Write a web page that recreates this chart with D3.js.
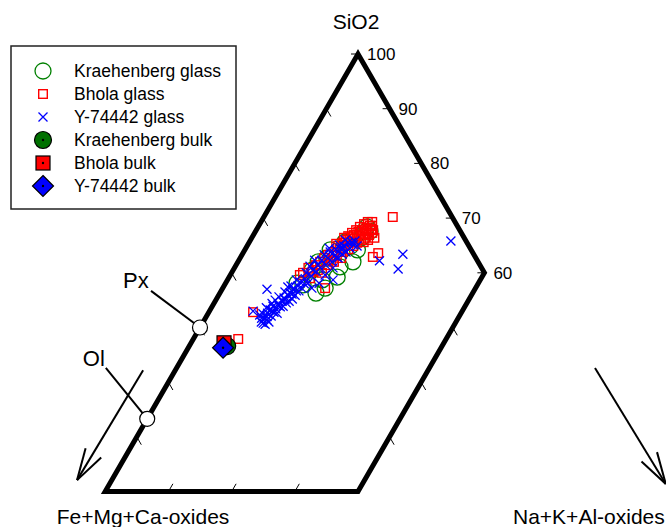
<!DOCTYPE html>
<html>
<head>
<meta charset="utf-8">
<script src="https://cdn.jsdelivr.net/npm/d3@7"></script>
<style>
  body { margin: 0; background: #fff; }
  svg { display: block; font-family: "Liberation Sans", Arial, Helvetica, sans-serif; }
</style>
</head>
<body>
<svg id="chart" width="666" height="527"></svg>
<script>
// Compositions as [SiO2, Na+K+Al-oxides] in %; Fe+Mg+Ca-oxides is the remainder to 100.
const kraehenbergGlass = [
  [64.2,13.5],[65.6,15.1],[62.0,18.2],[68.4,17.2],[59.2,17.1],[56.3,15.2],[57.8,12.4],
  [64.2,17.8],[62.7,13.7],[60.5,12.5],[66.5,17.4],[61.1,16.6],[58.7,15.0],[67.5,17.4],
  [57.2,16.2],[58.1,11.3],[64.9,16.4],[62.0,12.7],[67.6,18.1]
];
const bholaGlass = [
  [60.0,11.3],[60.9,11.7],[60.2,12.7],[61.4,12.6],[62.0,13.0],[62.7,13.3],[60.5,13.4],
  [63.3,13.6],[62.3,14.6],[63.8,14.3],[63.1,15.1],[64.5,14.9],[63.8,15.7],[65.1,15.4],
  [64.3,16.3],[65.6,15.9],[64.9,16.8],[66.2,16.4],[65.5,17.1],[66.7,16.8],[66.0,17.5],
  [67.1,17.3],[66.4,17.9],[67.6,17.6],[66.9,18.3],[68.0,18.1],[67.3,18.6],[68.6,17.6],
  [68.2,17.2],[67.8,16.7],[67.5,16.3],[66.9,15.9],[66.5,15.5],[66.0,15.1],[65.5,14.8],
  [64.9,14.4],[62.0,15.2],[61.4,14.4],[60.0,14.3],[65.3,13.9],[65.6,18.1],[66.0,18.6],
  [68.6,17.9],[67.8,18.5],[62.7,16.0],[57.2,16.2],[59.0,12.9],[59.6,11.0],
  [68.9,16.5],[69.3,16.9],[69.3,17.6],[68.4,16.1],[67.8,15.8],[67.3,15.4],[66.4,19.4],
  [66.7,15.1],[66.4,14.6],
  [70.2,20.4],[63.6,21.4],[62.9,20.9],[52.8,7.0],[47.9,7.1]
];
const y74442Glass = [
  [51.0,9.2],[51.7,9.3],[51.4,9.9],[52.5,8.7],[52.6,9.4],[52.1,10.2],[53.2,9.5],[52.8,10.3],
  [53.6,8.7],[53.9,9.6],[53.4,10.3],[54.3,10.2],[55.0,9.4],[53.8,10.8],[54.8,10.6],[55.6,9.7],
  [55.4,10.6],[54.5,11.4],[55.8,11.1],[56.5,10.2],[56.3,11.1],[55.2,12.0],[57.0,11.2],[56.7,11.9],
  [57.6,10.6],[57.6,11.7],[58.3,11.7],[58.7,10.9],[57.2,12.5],[58.9,12.2],[58.1,13.0],[60.0,11.8],
  [59.4,12.9],[60.5,12.6],[61.2,11.8],[60.2,13.3],[61.4,13.0],[62.3,12.0],[60.9,13.6],[62.3,13.1],
  [63.3,13.0],[61.4,14.2],[62.7,13.9],[63.8,13.7],[62.0,14.9],[63.1,14.7],[64.2,14.4],[62.7,15.5],
  [64.5,14.9],[63.4,15.8],[64.9,15.3],[63.8,16.2],[65.5,15.7],[64.5,16.5],[65.1,16.7],[65.8,16.6],
  [64.9,17.4],[66.0,15.0],[65.1,14.5],[64.5,13.2],[60.9,15.6],[59.6,15.0],[58.1,14.8],[57.2,14.1],
  [58.7,16.7],[65.6,16.2],[64.5,15.4],[62.9,15.2],[57.4,10.2],[51.7,8.9],[51.0,10.4],[50.6,10.0],
  [52.6,10.9],[53.9,11.2],[54.8,11.7],[55.9,12.1],[56.7,12.3],[58.0,12.5],
  [52.0,9.6],[53.0,10.0],[54.0,10.4],[55.1,10.9],[56.1,11.5],[50.8,9.6],[52.3,8.3],[54.4,9.2],
  [57.0,7.1],[53.0,6.9],[63.4,25.4],[60.7,26.0],[62.2,22.3],[65.8,31.8]
];
const kraehenbergBulk = [[46.6, 6.0]];
const bholaBulk = [[47.2, 5.2]];
const y74442Bulk = [[46.3, 5.5]];

// Plotted window of the ternary: SiO2 >= 20, Na+K+Al <= 40
const frame = [[100, 0], [60, 40], [20, 40], [20, 0]];
const sio2Ticks = [100, 90, 80, 70, 60];
const leftEdgeTicks = [90, 80, 70, 60, 50, 40, 30];
const bottomTicks = [10, 20, 30];
const cutEdgeTicks = [50, 40, 30];

// Reference minerals on the SiO2 - (Fe+Mg+Ca) join, molar
const minerals = [
  { name: "Px", sio2: 50.0, labelAt: [56.7, -11.1], textAt: [58.7, -14.5] },
  { name: "Ol", sio2: 33.3, labelAt: [42.6, -11.2], textAt: [44.4, -14.0] }
];
// Direction arrows towards the two lower apices
const arrows = [
  { from: [42.2, -5.1], to: [22.1, -5.5] },
  { from: [42.6, 66.2], to: [21.4, 88.0] }
];

const legendItems = [
  { label: "Kraehenberg glass", kind: "glassCircle" },
  { label: "Bhola glass", kind: "glassSquare" },
  { label: "Y-74442 glass", kind: "glassCross" },
  { label: "Kraehenberg bulk", kind: "bulkCircle" },
  { label: "Bhola bulk", kind: "bulkSquare" },
  { label: "Y-74442 bulk", kind: "bulkDiamond" }
];

const svg = d3.select("#chart");
const H = Math.sqrt(3) / 2;
const xs = d3.scaleLinear().domain([0, 1]).range([42, 674]);
const ys = d3.scaleLinear().domain([0, H]).range([601, 54]);
function proj(d) {
  const s = d[0] / 100, n = d[1] / 100;
  return [xs(n + s / 2), ys(s * H)];
}

// Frame
svg.append("path")
  .attr("d", d3.line()(frame.map(proj)) + "Z")
  .attr("fill", "none").attr("stroke", "#000")
  .attr("stroke-width", 5).attr("stroke-linejoin", "miter");

// Ticks
const tickG = svg.append("g").attr("stroke", "#000").attr("stroke-width", 1);
sio2Ticks.forEach(s => {
  const p = proj([s, 100 - s]);
  tickG.append("line").attr("x1", p[0]).attr("y1", p[1]).attr("x2", p[0] - 7).attr("y2", p[1]);
  svg.append("text").attr("x", p[0] + 9).attr("y", p[1]).attr("dy", "0.35em")
    .attr("font-size", 17).text(s);
});
leftEdgeTicks.forEach(s => {
  const p = proj([s, 0]);
  tickG.append("line").attr("x1", p[0]).attr("y1", p[1]).attr("x2", p[0] + 4.5).attr("y2", p[1] + 7.8);
});
cutEdgeTicks.forEach(s => {
  const p = proj([s, 40]);
  tickG.append("line").attr("x1", p[0]).attr("y1", p[1]).attr("x2", p[0] + 4.5).attr("y2", p[1] + 7.8);
});
bottomTicks.forEach(n => {
  const p = proj([20, n]);
  tickG.append("line").attr("x1", p[0]).attr("y1", p[1]).attr("x2", p[0] + 4.5).attr("y2", p[1] - 7.8);
});

// Axis titles
const apex = proj([100, 0]);
svg.append("text").attr("x", apex[0] - 2).attr("y", 29).attr("text-anchor", "middle")
  .attr("font-size", 21).text("SiO2");
svg.append("text").attr("x", 143).attr("y", 524).attr("text-anchor", "middle")
  .attr("font-size", 21).text("Fe+Mg+Ca-oxides");
svg.append("text").attr("x", 513).attr("y", 524).attr("text-anchor", "start")
  .attr("font-size", 21).text("Na+K+Al-oxides");

// Arrows
function arrow(a) {
  const p0 = proj(a.from), p1 = proj(a.to);
  const ang = Math.atan2(p0[1] - p1[1], p0[0] - p1[0]);
  const len = 33, spread = 16 * Math.PI / 180;
  const g = svg.append("g").attr("stroke", "#000").attr("stroke-width", 2).attr("fill", "none");
  g.append("line").attr("x1", p0[0]).attr("y1", p0[1]).attr("x2", p1[0]).attr("y2", p1[1]);
  [-spread, spread].forEach(da => {
    g.append("line").attr("x1", p1[0]).attr("y1", p1[1])
      .attr("x2", p1[0] + len * Math.cos(ang + da)).attr("y2", p1[1] + len * Math.sin(ang + da));
  });
}
arrows.forEach(arrow);

// Mineral reference points
minerals.forEach(m => {
  const p = proj([m.sio2, 0]);
  const l = proj(m.labelAt);
  const t = proj(m.textAt);
  svg.append("line").attr("x1", l[0]).attr("y1", l[1]).attr("x2", p[0]).attr("y2", p[1])
    .attr("stroke", "#000").attr("stroke-width", 2);
  svg.append("circle").attr("cx", p[0]).attr("cy", p[1]).attr("r", 7.5)
    .attr("fill", "#fff").attr("stroke", "#000").attr("stroke-width", 1.2);
  svg.append("text").attr("x", t[0]).attr("y", t[1]).attr("dy", "0.35em")
    .attr("text-anchor", "middle").attr("font-size", 22).text(m.name);
});

// Marker drawing helpers
function drawMarker(g, kind, cx, cy) {
  switch (kind) {
    case "glassCircle":
      g.append("circle").attr("cx", cx).attr("cy", cy).attr("r", 8)
        .attr("fill", "none").attr("stroke", "#008000").attr("stroke-width", 1.3);
      break;
    case "glassSquare":
      g.append("rect").attr("x", cx - 4.3).attr("y", cy - 4.3).attr("width", 8.6).attr("height", 8.6)
        .attr("fill", "none").attr("stroke", "#ff0000").attr("stroke-width", 1.4);
      break;
    case "glassCross":
      g.append("path").attr("d", `M${cx-4.5},${cy-4.5}L${cx+4.5},${cy+4.5}M${cx-4.5},${cy+4.5}L${cx+4.5},${cy-4.5}`)
        .attr("stroke", "#0000ff").attr("stroke-width", 1.3).attr("fill", "none");
      break;
    case "bulkCircle":
      g.append("circle").attr("cx", cx).attr("cy", cy).attr("r", 8.5)
        .attr("fill", "#007000").attr("stroke", "#000").attr("stroke-width", 1.2);
      g.append("circle").attr("cx", cx).attr("cy", cy).attr("r", 1.2).attr("fill", "#000");
      break;
    case "bulkSquare":
      g.append("rect").attr("x", cx - 7).attr("y", cy - 7).attr("width", 14).attr("height", 14)
        .attr("fill", "#ff0000").attr("stroke", "#000").attr("stroke-width", 1.2);
      g.append("circle").attr("cx", cx).attr("cy", cy).attr("r", 1.2).attr("fill", "#000");
      break;
    case "bulkDiamond":
      g.append("path").attr("d", `M${cx},${cy-10.5}L${cx+10.5},${cy}L${cx},${cy+10.5}L${cx-10.5},${cy}Z`)
        .attr("fill", "#0000ff").attr("stroke", "#000").attr("stroke-width", 1.2);
      g.append("circle").attr("cx", cx).attr("cy", cy).attr("r", 1.2).attr("fill", "#000");
      break;
  }
}

const series = [
  { data: kraehenbergGlass, kind: "glassCircle" },
  { data: bholaGlass, kind: "glassSquare" },
  { data: y74442Glass, kind: "glassCross" },
  { data: kraehenbergBulk, kind: "bulkCircle" },
  { data: bholaBulk, kind: "bulkSquare" },
  { data: y74442Bulk, kind: "bulkDiamond" }
];
series.forEach(sr => {
  const g = svg.append("g");
  sr.data.forEach(d => { const p = proj(d); drawMarker(g, sr.kind, p[0], p[1]); });
});

// Legend
const lg = svg.append("g");
lg.append("rect").attr("x", 11).attr("y", 46).attr("width", 225).attr("height", 163)
  .attr("fill", "#fff").attr("stroke", "#222").attr("stroke-width", 1.5);
legendItems.forEach((it, i) => {
  const cy = 71 + i * 23;
  drawMarker(lg, it.kind, 43, cy);
  lg.append("text").attr("x", 74).attr("y", cy).attr("dy", "0.35em")
    .attr("font-size", 17.5).text(it.label);
});
</script>
</body>
</html>
